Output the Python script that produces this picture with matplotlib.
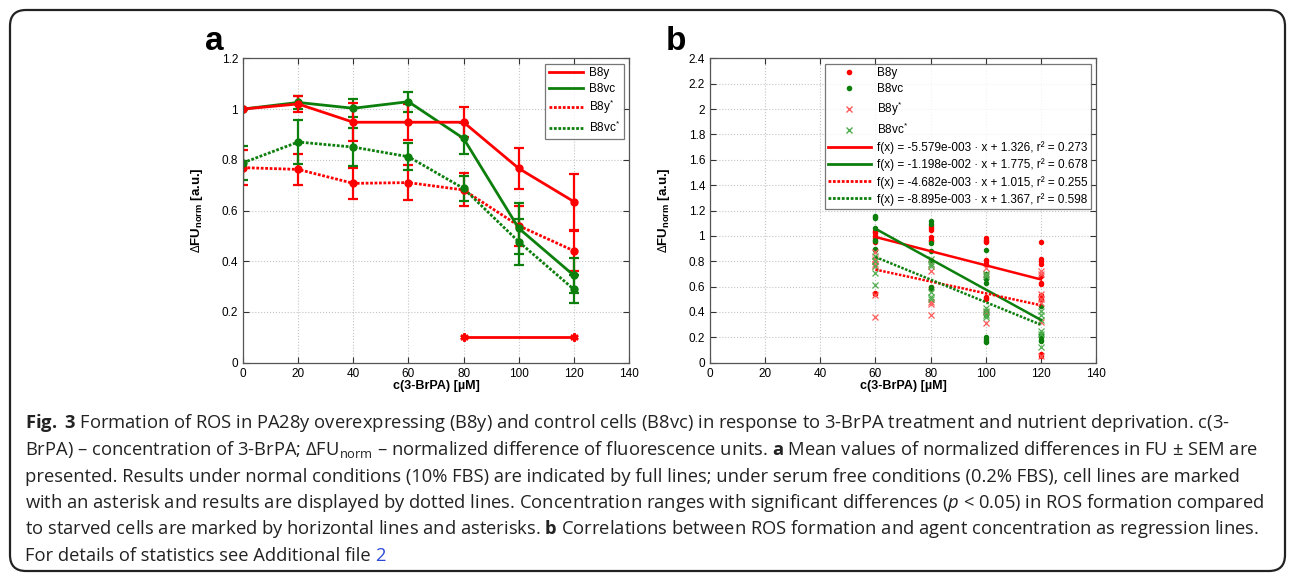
import numpy as np
import matplotlib
matplotlib.use("Agg")
import matplotlib.pyplot as plt
from matplotlib.patches import FancyBboxPatch
from matplotlib.lines import Line2D
from matplotlib.transforms import IdentityTransform

plt.rcParams['font.family'] = ['Liberation Sans', 'DejaVu Sans']
plt.rcParams['mathtext.fontset'] = 'custom'
plt.rcParams['mathtext.rm'] = 'Open Sans'
plt.rcParams['mathtext.bf'] = 'Open Sans:bold'
plt.rcParams['mathtext.it'] = 'Open Sans:italic'
plt.rcParams['mathtext.sf'] = 'Liberation Sans:bold'
plt.rcParams['mathtext.tt'] = 'Liberation Sans'

RED = '#ff0000'
GREEN = '#0c7f0c'
RED_X = '#ff5c5c'
GREEN_X = '#4fae4f'

# panel a: means +- SEM
conc = [0, 20, 40, 60, 80, 100, 120]
b8y_mean = [1.0, 1.02, 0.948, 0.948, 0.948, 0.766, 0.635]
b8y_sem = [0.0, 0.03, 0.075, 0.07, 0.06, 0.08, 0.11]
b8vc_mean = [1.0, 1.026, 1.003, 1.029, 0.884, 0.530, 0.344]
b8vc_sem = [0.0, 0.025, 0.035, 0.04, 0.062, 0.10, 0.07]
b8ys_mean = [0.769, 0.762, 0.707, 0.710, 0.681, 0.540, 0.441]
b8ys_sem = [0.07, 0.06, 0.06, 0.07, 0.065, 0.078, 0.08]
b8vcs_mean = [0.788, 0.870, 0.850, 0.812, 0.687, 0.477, 0.289]
b8vcs_sem = [0.067, 0.087, 0.075, 0.053, 0.05, 0.09, 0.055]
sig_x = [80, 120]
sig_y = [0.1, 0.1]

# panel b: single measurements at 60, 80, 100, 120 uM
pts_x = [60, 80, 100, 120]
b8y_pts = [[1.04, 1.03, 1.02, 1.00, 0.98, 0.95, 0.55, 0.54],
           [1.08, 1.06, 1.05, 0.99, 0.97, 0.96, 0.81, 0.60, 0.58],
           [0.98, 0.97, 0.96, 0.95, 0.81, 0.80, 0.78, 0.52, 0.51, 0.50, 0.40, 0.39],
           [0.95, 0.82, 0.80, 0.78, 0.68, 0.63, 0.62, 0.53, 0.52, 0.50, 0.07, 0.05]]
b8vc_pts = [[1.16, 1.15, 1.14, 1.06, 0.97, 0.96, 0.90, 0.89],
            [1.12, 1.09, 0.94, 0.88, 0.80, 0.60, 0.58],
            [0.89, 0.70, 0.68, 0.66, 0.63, 0.40, 0.38, 0.20, 0.19, 0.17, 0.16],
            [0.45, 0.23, 0.22, 0.21, 0.20, 0.18, 0.17]]
b8ys_pts = [[0.87, 0.82, 0.80, 0.78, 0.76, 0.53, 0.36],
            [0.78, 0.72, 0.48, 0.46, 0.38],
            [0.75, 0.70, 0.40, 0.31],
            [0.72, 0.70, 0.54, 0.50, 0.47, 0.32, 0.05]]
b8vcs_pts = [[0.84, 0.80, 0.76, 0.71, 0.61],
             [0.82, 0.78, 0.76, 0.56, 0.52, 0.50],
             [0.70, 0.68, 0.43, 0.41, 0.38, 0.36],
             [0.41, 0.38, 0.34, 0.25, 0.23, 0.12]]
fit_slope = [-5.579e-3, -1.198e-2, -4.682e-3, -8.895e-3]
fit_icpt = [1.326, 1.775, 1.015, 1.367]
fit_r2 = [0.273, 0.678, 0.255, 0.598]
fit_x = np.array([60, 120])

W, H = 1295, 573
fig = plt.figure(figsize=(W / 100, H / 100), dpi=100)

# rounded frame around the whole figure
frame = FancyBboxPatch((10, 2), 1275, 561, boxstyle="round,pad=0,rounding_size=16",
                       transform=IdentityTransform(), facecolor='none',
                       edgecolor='#222222', linewidth=1.6)
fig.patches.append(frame)

ax_a = fig.add_axes([243 / W, 1 - 362.7 / H, 386 / W, 304.4 / H])
ax_b = fig.add_axes([710 / W, 1 - 362.7 / H, 386 / W, 304.4 / H])

dots = (0, (1.0, 0.6))


def style_axes(ax, ymax, ystep):
    ax.set_xlim(0, 140)
    ax.set_ylim(0, ymax)
    ax.set_xticks(np.arange(0, 141, 20))
    yt = np.round(np.arange(0, ymax + 1e-9, ystep), 1)
    ax.set_yticks(yt)
    ax.set_yticklabels(['%g' % v for v in yt])
    ax.tick_params(direction='in', top=True, right=True, length=4, width=0.8,
                   labelsize=8.5, colors='#333333', labelcolor='black')
    ax.grid(True, linestyle=':', color='#c4c4c4', linewidth=0.8)
    ax.set_axisbelow(True)
    for s in ax.spines.values():
        s.set_color('#555555')
        s.set_linewidth(0.9)
    ax.set_xlabel('c(3-BrPA) [µM]', fontsize=9, fontweight='bold')
    ax.set_ylabel(r'$\Delta$FU$_{\mathsf{norm}}$ [a.u.]', fontsize=9.5, fontweight='bold')
    ax.xaxis.set_label_coords(0.5, -0.058)
    ax.yaxis.set_label_coords(-0.098, 0.5)


# panel a
style_axes(ax_a, 1.2, 0.2)
series_a = [(b8ys_mean, b8ys_sem, RED, dots),
            (b8vcs_mean, b8vcs_sem, GREEN, dots),
            (b8vc_mean, b8vc_sem, GREEN, '-'),
            (b8y_mean, b8y_sem, RED, '-')]
for m, e, c, ls in series_a:
    ax_a.errorbar(conc, m, yerr=e, color=c, linestyle=ls, linewidth=2,
                  marker='o', markersize=5, capsize=3.3, capthick=1.6,
                  elinewidth=1.6)
ax_a.plot(sig_x, sig_y, color=RED, linewidth=2, marker=(6, 2, 0),
          markersize=6, markeredgewidth=1.6)
ax_a.plot(sig_x, sig_y, color=RED, linestyle='none', marker='o', markersize=4)

h_a = [Line2D([], [], color=RED, lw=2),
       Line2D([], [], color=GREEN, lw=2),
       Line2D([], [], color=RED, lw=2, ls=dots),
       Line2D([], [], color=GREEN, lw=2, ls=dots)]
lab_a = ['B8y', 'B8vc', r'B8y$^{\mathtt{*}}$', r'B8vc$^{\mathtt{*}}$']
leg = ax_a.legend(h_a, lab_a, loc='upper right', fontsize=8.5, frameon=True,
                  fancybox=False, edgecolor='#555555', handlelength=2.9,
                  handletextpad=0.5, labelspacing=0.3, borderaxespad=0.45,
                  borderpad=0.3)
leg.get_frame().set_linewidth(0.9)

# panel b
style_axes(ax_b, 2.4, 0.2)
for pts, c, mk, ms in [(b8y_pts, RED, 'o', 3), (b8vc_pts, GREEN, 'o', 3),
                       (b8ys_pts, RED_X, 'x', 4), (b8vcs_pts, GREEN_X, 'x', 4)]:
    xs = np.concatenate([[x] * len(p) for x, p in zip(pts_x, pts)])
    ys = np.concatenate(pts)
    ax_b.plot(xs, ys, linestyle='none', marker=mk, markersize=ms, color=c,
              markeredgewidth=0.9)

fit_style = [(RED, '-'), (GREEN, '-'), (RED, dots), (GREEN, dots)]
fit_labels = []
for s, b, r2, (c, ls) in zip(fit_slope, fit_icpt, fit_r2, fit_style):
    ax_b.plot(fit_x, s * fit_x + b, color=c, linestyle=ls, linewidth=1.8)
    e = int(np.floor(np.log10(abs(s))))
    mant = s / 10 ** e
    fit_labels.append('f(x) = %.3fe-%03d \u00b7 x + %.3f, r\u00b2 = %.3f'
                      % (mant, -e, b, r2))

h_b = [Line2D([], [], color=RED, ls='none', marker='o', markersize=3),
       Line2D([], [], color=GREEN, ls='none', marker='o', markersize=3),
       Line2D([], [], color=RED_X, ls='none', marker='x', markersize=4),
       Line2D([], [], color=GREEN_X, ls='none', marker='x', markersize=4)]
h_b += [Line2D([], [], color=c, lw=2, ls=ls) for c, ls in fit_style]
lab_b = lab_a + fit_labels
leg_b = ax_b.legend(h_b, lab_b, loc='upper right', fontsize=8.5, frameon=True,
                    fancybox=False, edgecolor='#555555', handlelength=3.6,
                    handletextpad=0.5, labelspacing=0.36, borderaxespad=0.45,
                    borderpad=0.3)
leg_b.get_frame().set_linewidth(0.9)

# panel letters
fig.text(205 / W, 1 - 50 / H, 'a', fontsize=24, fontweight='bold', va='baseline')
fig.text(666 / W, 1 - 50 / H, 'b', fontsize=24, fontweight='bold', va='baseline')

# caption
caption = [
    r'$\mathbf{Fig.}$ $\mathbf{3}$ Formation of ROS in PA28y overexpressing (B8y) and control cells (B8vc) in response to 3-BrPA treatment and nutrient deprivation. c(3-',
    r'BrPA) – concentration of 3-BrPA; ΔFU$_{\mathrm{norm}}$ – normalized difference of fluorescence units. $\mathbf{a}$ Mean values of normalized differences in FU ± SEM are',
    'presented. Results under normal conditions (10% FBS) are indicated by full lines; under serum free conditions (0.2% FBS), cell lines are marked',
    r'with an asterisk and results are displayed by dotted lines. Concentration ranges with significant differences ($\mathit{p}$ < 0.05) in ROS formation compared',
    r'to starved cells are marked by horizontal lines and asterisks. $\mathbf{b}$ Correlations between ROS formation and agent concentration as regression lines.',
    'For details of statistics see Additional file',
]
baselines = [428.5, 455, 481.5, 508, 534.5, 561]
cap_texts = []
for line, yb in zip(caption, baselines):
    t = fig.text(25 / W, 1 - yb / H, line, fontsize=13.2, va='baseline',
                 family=['Open Sans', 'DejaVu Sans'], color='#222222')
    cap_texts.append(t)

fig.canvas.draw()
bb = cap_texts[-1].get_window_extent()
fig.text((bb.x1 + 4) / W, 1 - baselines[-1] / H, '2', fontsize=13.2, va='baseline',
         family=['Open Sans', 'DejaVu Sans'], color='#2b47d6')

fig.savefig('out.png', dpi=100)
